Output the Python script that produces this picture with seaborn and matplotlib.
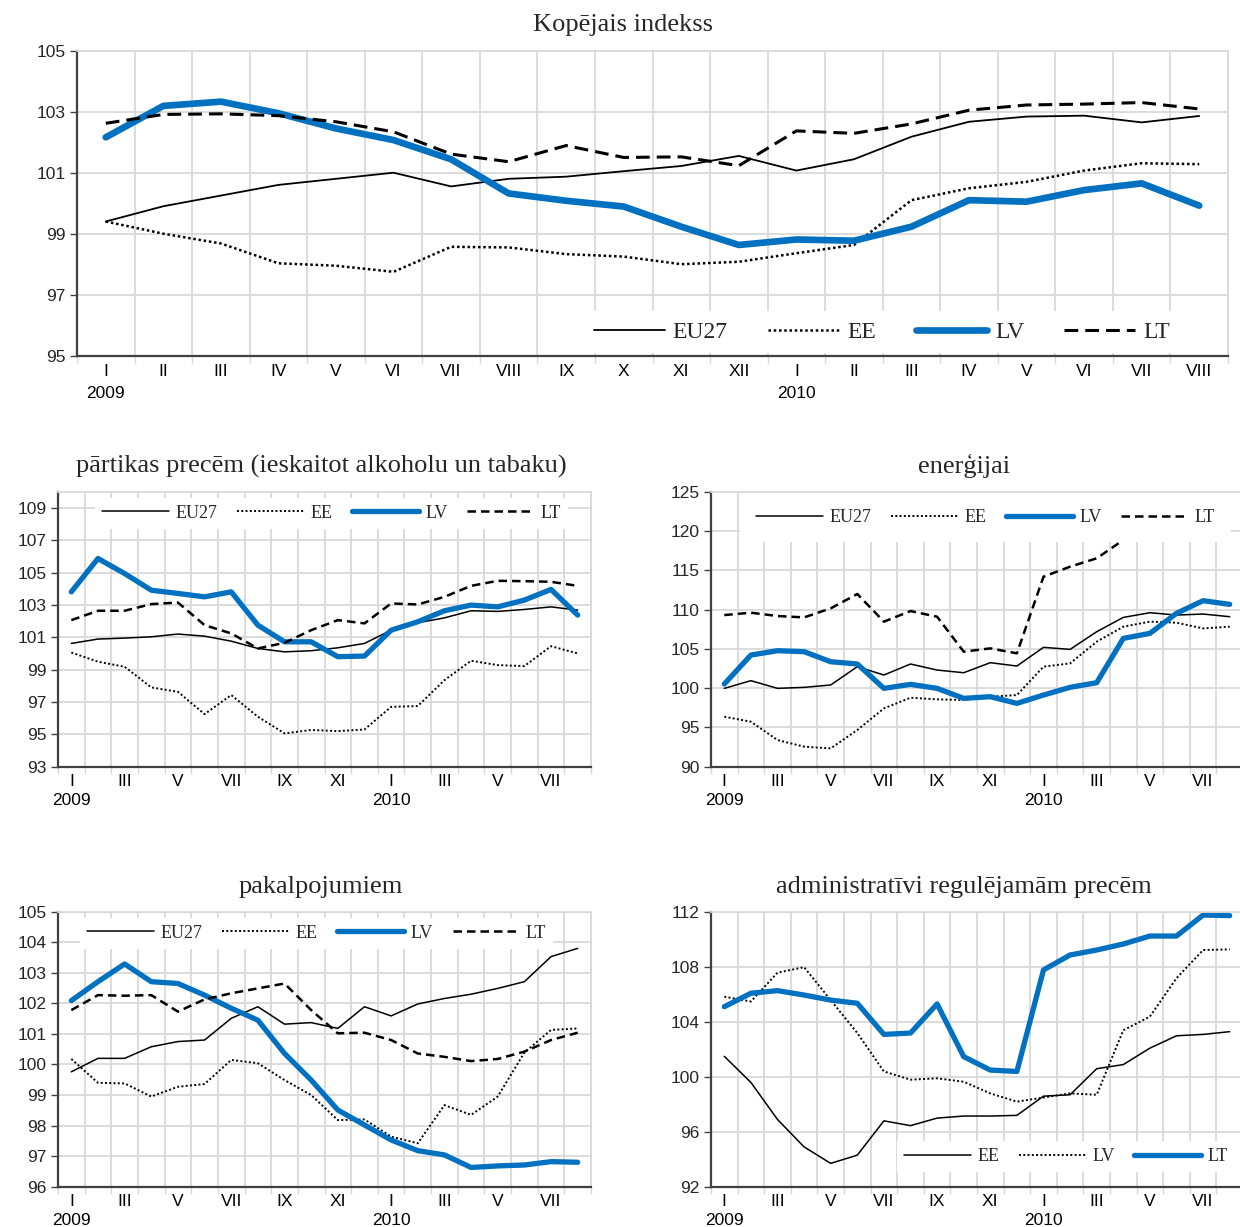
import numpy as np
import pandas as pd
import matplotlib
matplotlib.use("Agg")
import matplotlib.pyplot as plt
import seaborn as sns

# --- data (monthly index values, I 2009 .. VIII 2010) ---
roman = ["I", "II", "III", "IV", "V", "VI", "VII", "VIII", "IX", "X", "XI", "XII"]
months = roman + roman[:8]
years = ["2009"] + [""] * 11 + ["2010"] + [""] * 7

# Kopējais indekss
kop_eu27 = [99.4, 99.9, 100.25, 100.6, 100.8, 101.0, 100.55, 100.8, 100.87, 101.05,
            101.22, 101.55, 101.07, 101.44, 102.18, 102.67, 102.84, 102.87, 102.65, 102.86]
kop_ee = [99.4, 99.0, 98.68, 98.03, 97.95, 97.75, 98.57, 98.55, 98.33, 98.25,
          98.0, 98.08, 98.36, 98.63, 100.1, 100.49, 100.7, 101.07, 101.31, 101.28]
kop_lv = [102.16, 103.19, 103.33, 102.95, 102.45, 102.07, 101.44, 100.32, 100.08, 99.89,
          99.23, 98.63, 98.81, 98.77, 99.23, 100.1, 100.05, 100.43, 100.65, 99.92]
kop_lt = [102.62, 102.91, 102.93, 102.87, 102.67, 102.34, 101.61, 101.36, 101.89, 101.5,
          101.52, 101.23, 102.37, 102.29, 102.6, 103.05, 103.22, 103.25, 103.3, 103.09]

# pārtikas precēm
food_eu27 = [100.62, 100.89, 100.95, 101.03, 101.2, 101.07, 100.76, 100.31, 100.1, 100.17,
             100.35, 100.62, 101.44, 101.9, 102.2, 102.64, 102.6, 102.72, 102.88, 102.68]
food_ee = [100.06, 99.49, 99.18, 97.9, 97.63, 96.25, 97.43, 96.09, 95.06, 95.27,
           95.2, 95.3, 96.7, 96.75, 98.35, 99.55, 99.28, 99.22, 100.45, 100.0]
food_lv = [103.81, 105.87, 104.94, 103.91, 103.71, 103.5, 103.81, 101.75, 100.72, 100.72,
           99.8, 99.84, 101.44, 101.96, 102.64, 102.99, 102.88, 103.3, 103.96, 102.37]
food_lt = [102.06, 102.64, 102.64, 103.05, 103.15, 101.75, 101.24, 100.31, 100.66, 101.44,
           102.06, 101.86, 103.09, 103.03, 103.5, 104.18, 104.49, 104.47, 104.43, 104.18]

# enerģijai
en_eu27 = [99.97, 100.95, 99.97, 100.1, 100.4, 102.73, 101.67, 103.07, 102.3, 101.96,
           103.24, 102.81, 105.19, 104.93, 107.18, 109.0, 109.6, 109.3, 109.43, 109.09]
en_ee = [96.36, 95.73, 93.39, 92.55, 92.33, 94.67, 97.42, 98.78, 98.57, 98.49,
         98.91, 99.12, 102.73, 103.15, 105.91, 107.82, 108.46, 108.33, 107.6, 107.82]
en_lv = [100.52, 104.21, 104.76, 104.64, 103.36, 103.07, 99.97, 100.48, 99.97, 98.7,
         98.91, 98.06, 99.12, 100.1, 100.69, 106.33, 106.97, 109.52, 111.13, 110.66]
en_lt = [109.3, 109.6, 109.18, 109.0, 110.15, 111.98, 108.46, 109.81, 109.09, 104.64,
         105.06, 104.43, 114.18, 115.46, 116.52, 118.85, 119.3, 119.6, 120.0, 120.3]

# pakalpojumiem
serv_eu27 = [99.76, 100.2, 100.2, 100.58, 100.75, 100.8, 101.51, 101.89, 101.32, 101.37,
             101.18, 101.89, 101.59, 101.98, 102.16, 102.3, 102.49, 102.71, 103.53, 103.8]
serv_ee = [100.18, 99.4, 99.38, 98.95, 99.27, 99.36, 100.15, 100.04, 99.49, 99.0,
           98.18, 98.2, 97.64, 97.42, 98.67, 98.35, 98.95, 100.39, 101.13, 101.18]
serv_lv = [102.09, 102.71, 103.29, 102.71, 102.65, 102.27, 101.84, 101.45, 100.36, 99.49,
           98.51, 98.02, 97.53, 97.18, 97.04, 96.63, 96.68, 96.71, 96.82, 96.8]
serv_lt = [101.78, 102.27, 102.25, 102.27, 101.73, 102.13, 102.33, 102.49, 102.65, 101.78,
           101.02, 101.04, 100.8, 100.36, 100.25, 100.11, 100.18, 100.42, 100.8, 101.04]

# administratīvi regulējamām precēm
adm_ee = [101.5, 99.6, 96.9, 94.9, 93.7, 94.3, 96.8, 96.45, 97.0, 97.15,
          97.15, 97.2, 98.6, 98.7, 100.6, 100.9, 102.1, 103.0, 103.1, 103.3]
adm_lv = [105.85, 105.5, 107.6, 108.0, 105.6, 103.2, 100.4, 99.8, 99.9, 99.65,
          98.8, 98.2, 98.5, 98.8, 98.7, 103.4, 104.4, 107.2, 109.25, 109.3]
adm_lt = [105.12, 106.1, 106.29, 105.97, 105.6, 105.37, 103.1, 103.2, 105.32, 101.48,
          100.5, 100.4, 107.8, 108.89, 109.25, 109.69, 110.27, 110.27, 111.8, 111.76]

BLUE = "#0070C0"
GRID = "#D9D9D9"
AXC = "#404040"
W, H = 1240, 1227

sns.set_theme(style="white")
plt.rcParams["font.family"] = ["Liberation Sans", "DejaVu Sans"]
SERIF = ["Liberation Serif", "DejaVu Serif"]

fig = plt.figure(figsize=(W / 100, H / 100), dpi=100)


def px_axes(left, right, top, bottom):
    return fig.add_axes([left / W, 1 - bottom / H, (right - left) / W, (bottom - top) / H])


def line_styles(big):
    if big:
        return {
            "solid": dict(color="black", linewidth=1.3),
            "dot": dict(color="black", linewidth=1.8, linestyle=(0, (1, 1.1))),
            "blue": dict(color=BLUE, linewidth=4.8, solid_capstyle="round", solid_joinstyle="round"),
            "dash": dict(color="black", linewidth=2.2, linestyle=(0, (4.5, 2.3))),
        }
    return {
        "solid": dict(color="black", linewidth=1.1),
        "dot": dict(color="black", linewidth=1.4, linestyle=(0, (1, 1.2))),
        "blue": dict(color=BLUE, linewidth=3.8, solid_capstyle="round", solid_joinstyle="round"),
        "dash": dict(color="black", linewidth=1.8, linestyle=(0, (3.4, 2))),
    }


def draw_panel(ax, series, ylim, yticks, xlabels, big, title, title_xy, leg_xy, leg_pad):
    st = line_styles(big)
    idx = np.arange(len(months))
    for name, vals, kind in series:
        df = pd.DataFrame({"m": idx, "v": vals})
        sns.lineplot(data=df, x="m", y="v", ax=ax, label=name, **st[kind])

    n = len(months)
    ax.set_xlim(-0.5, n - 0.5)
    ax.set_ylim(*ylim)
    ax.set_yticks(yticks)
    ax.set_xticks(idx)
    ax.set_xticklabels(xlabels)
    ax.set_xticks(np.arange(-0.5, n), minor=True)
    ax.set_xlabel("")
    ax.set_ylabel("")
    ax.grid(False)
    ax.grid(axis="y", which="major", color=GRID, linewidth=1.3)
    ax.grid(axis="x", which="minor", color=GRID, linewidth=1.3)
    ax.set_axisbelow(True)
    ax.tick_params(axis="x", which="major", length=0, pad=6 if big else 5,
                   labelsize=12.5, colors="black")
    ax.tick_params(axis="x", which="minor", length=5, width=1, color=GRID, bottom=True)
    ax.tick_params(axis="y", length=5, width=1, color=AXC, pad=3, labelsize=12.5, left=True)
    for lab in ax.get_xticklabels():
        lab.set_linespacing(1.55 if big else 1.38)
    for s in ["left", "bottom"]:
        ax.spines[s].set_color(AXC)
        ax.spines[s].set_linewidth(1.6)
    for s in ["top", "right"]:
        ax.spines[s].set_color(GRID)
        ax.spines[s].set_linewidth(1.3)

    fs = 17 if big else 13
    leg = ax.legend(loc="center", bbox_to_anchor=(leg_xy[0] / W, 1 - leg_xy[1] / H),
                    bbox_transform=fig.transFigure, ncol=len(series), frameon=True,
                    facecolor="white", edgecolor="none", framealpha=1, fancybox=False,
                    handlelength=3.0 if big else 3.7, handletextpad=0.35,
                    columnspacing=1.7 if big else 1.1, borderpad=leg_pad,
                    prop={"family": SERIF, "size": fs})
    leg.set_zorder(5)

    fig.text(title_xy[0] / W, 1 - title_xy[1] / H, title, ha="center", va="center",
             family=SERIF, fontsize=19)


top_labels = [m + ("\n" + y if y else "") for m, y in zip(months, years)]
sub_labels = [(m + ("\n" + y if y else "")) if i % 2 == 0 else "" for i, (m, y) in
              enumerate(zip(months, years))]

ax0 = px_axes(77, 1228, 50.7, 355.7)
draw_panel(ax0, [("EU27", kop_eu27, "solid"), ("EE", kop_ee, "dot"),
                 ("LV", kop_lv, "blue"), ("LT", kop_lt, "dash")],
           (95, 105), np.arange(95, 106, 2), top_labels, True,
           "Kopējais indekss", (623, 25), (882, 332), 0.45)

ax1 = px_axes(58, 591, 491.7, 766.7)
draw_panel(ax1, [("EU27", food_eu27, "solid"), ("EE", food_ee, "dot"),
                 ("LV", food_lv, "blue"), ("LT", food_lt, "dash")],
           (93, 110), np.arange(93, 110, 2), sub_labels, False,
           "pārtikas precēm (ieskaitot alkoholu un tabaku)", (321, 466), (331.5, 513.3), 0.4)

ax2 = px_axes(711, 1243, 491.7, 766.7)
draw_panel(ax2, [("EU27", en_eu27, "solid"), ("EE", en_ee, "dot"),
                 ("LV", en_lv, "blue"), ("LT", en_lt, "dash")],
           (90, 125), np.arange(90, 126, 5), sub_labels, False,
           "enerģijai", (964, 466), (985.6, 517.7), 0.9)

ax3 = px_axes(58, 591, 911.7, 1186.7)
draw_panel(ax3, [("EU27", serv_eu27, "solid"), ("EE", serv_ee, "dot"),
                 ("LV", serv_lv, "blue"), ("LT", serv_lt, "dash")],
           (96, 105), np.arange(96, 106, 1), sub_labels, False,
           "pakalpojumiem", (321, 887), (316.8, 933.3), 0.4)

ax4 = px_axes(711, 1243, 912.3, 1186.7)
draw_panel(ax4, [("EE", adm_ee, "solid"), ("LV", adm_lv, "dot"),
                 ("LT", adm_lt, "blue")],
           (92, 112), np.arange(92, 113, 4), sub_labels, False,
           "administratīvi regulējamām precēm", (964, 887), (1066, 1156.7), 0.4)

fig.savefig("out.png", dpi=100)
